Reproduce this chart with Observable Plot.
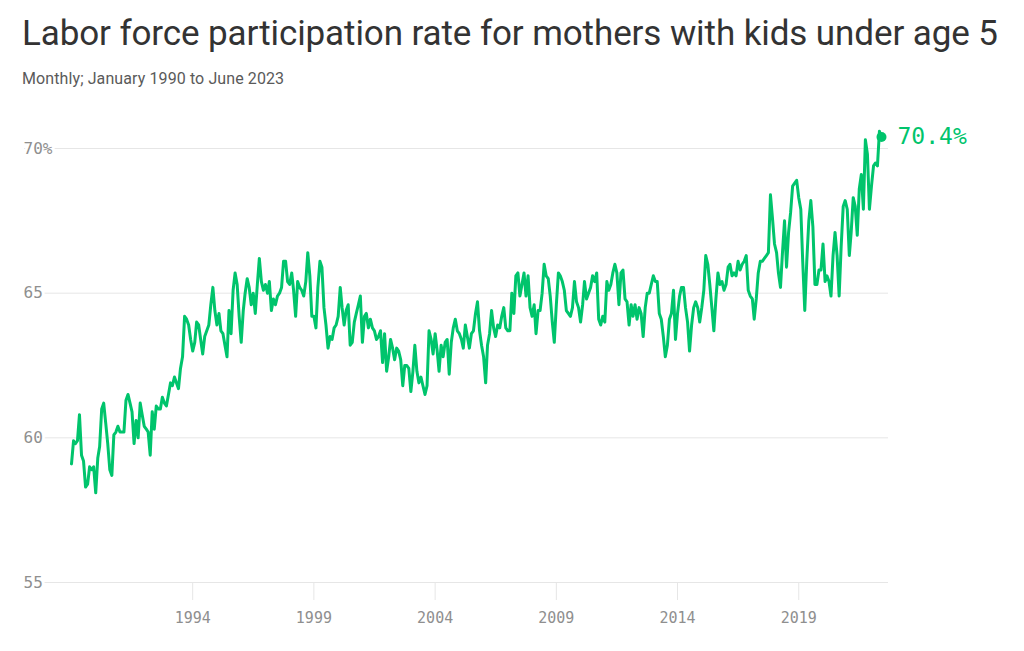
<!DOCTYPE html>
<html><head><meta charset="utf-8">
<script src="https://cdn.jsdelivr.net/npm/d3@7"></script>
<script src="https://cdn.jsdelivr.net/npm/@observablehq/plot@0.6"></script>
<style>
html,body{margin:0;padding:0;background:#fff;width:1024px;height:651px;overflow:hidden;position:relative;}
#title{position:absolute;left:22px;top:16px;font-family:Roboto,sans-serif;font-size:35px;line-height:35px;color:#333;white-space:nowrap;letter-spacing:-0.1px;}
#subtitle{position:absolute;left:22px;top:71px;font-family:Roboto,sans-serif;font-size:16px;line-height:16px;color:#5a5a5a;white-space:nowrap;letter-spacing:0.1px;}
#chart{position:absolute;left:0;top:100px;}
</style></head><body>
<div id="title">Labor force participation rate for mothers with kids under age 5</div>
<div id="subtitle">Monthly; January 1990 to June 2023</div>
<div id="chart"></div>
<script>
// Monthly rate (%), January 1990 onward
const rates = [
 59.1, 59.9, 59.8, 59.9, 60.8, 59.4, 59.2, 58.3, 58.4, 59.0, 58.9, 59.0, // 1990
 58.1, 59.3, 59.7, 61.0, 61.2, 60.5, 59.8, 58.9, 58.7, 60.1, 60.2, 60.4, // 1991
 60.2, 60.2, 60.2, 61.3, 61.5, 61.2, 60.9, 59.8, 60.6, 60.0, 61.2, 60.8, // 1992
 60.4, 60.3, 60.2, 59.4, 60.9, 60.3, 61.1, 61.0, 61.0, 61.4, 61.2, 61.1, // 1993
 61.5, 61.9, 61.8, 62.1, 61.9, 61.7, 62.4, 62.8, 64.2, 64.1, 63.9, 63.4, // 1994
 63.0, 63.3, 64.0, 63.9, 63.4, 62.9, 63.5, 63.7, 63.9, 64.6, 65.2, 64.4, // 1995
 63.9, 64.3, 63.7, 63.6, 63.2, 62.8, 64.4, 63.6, 65.1, 65.7, 65.3, 64.2, // 1996
 63.3, 64.4, 65.0, 65.5, 65.2, 64.6, 65.0, 64.3, 65.3, 66.2, 65.4, 65.1, // 1997
 65.3, 65.0, 65.4, 64.4, 64.8, 64.6, 64.9, 65.0, 65.2, 66.1, 66.1, 65.4, // 1998
 65.3, 65.7, 65.1, 64.2, 65.4, 65.2, 65.1, 64.9, 65.4, 66.4, 65.6, 64.2, // 1999
 64.2, 63.8, 65.2, 66.1, 65.9, 64.5, 63.9, 63.1, 63.5, 63.4, 63.8, 63.9, // 2000
 64.2, 65.2, 64.5, 63.9, 64.4, 64.6, 63.2, 63.3, 64.0, 64.3, 64.6, 64.9, // 2001
 63.3, 64.2, 64.3, 63.8, 64.1, 63.8, 63.7, 63.4, 63.5, 63.7, 62.6, 63.6, // 2002
 62.3, 62.8, 63.4, 63.1, 62.7, 63.1, 63.0, 62.7, 61.8, 62.5, 62.5, 62.4, // 2003
 61.6, 62.3, 63.2, 62.3, 61.9, 62.1, 61.8, 61.5, 61.8, 63.7, 63.4, 62.9, // 2004
 63.6, 63.0, 62.3, 63.2, 62.8, 63.3, 63.4, 62.2, 63.3, 63.8, 64.1, 63.7, // 2005
 63.6, 63.4, 63.1, 63.9, 63.5, 63.1, 63.6, 63.7, 64.3, 64.7, 63.7, 63.2, // 2006
 62.8, 61.9, 63.2, 63.6, 64.4, 63.8, 63.5, 63.9, 63.8, 64.2, 64.5, 63.8, // 2007
 63.7, 63.7, 65.0, 64.3, 65.6, 65.7, 64.9, 65.3, 65.7, 64.9, 65.6, 64.5, // 2008
 64.2, 64.6, 63.6, 64.4, 64.4, 65.0, 66.0, 65.6, 65.5, 64.9, 64.0, 63.3, // 2009
 64.6, 65.7, 65.6, 65.4, 65.1, 64.4, 64.3, 64.2, 64.5, 65.4, 64.7, 64.5, // 2010
 64.0, 64.6, 65.4, 64.8, 65.0, 65.2, 65.6, 65.4, 65.7, 64.1, 63.9, 64.2, // 2011
 64.0, 65.4, 65.1, 65.3, 65.7, 66.0, 65.7, 64.6, 65.7, 65.8, 64.8, 64.7, // 2012
 63.9, 64.6, 64.2, 64.6, 64.1, 64.5, 64.3, 63.5, 64.5, 65.0, 65.0, 65.3, // 2013
 65.6, 65.4, 65.4, 64.3, 64.1, 63.5, 62.8, 63.2, 64.1, 64.3, 65.1, 63.4, // 2014
 64.3, 64.9, 65.2, 65.2, 64.5, 64.0, 63.0, 63.9, 64.5, 64.7, 64.5, 64.0, // 2015
 64.5, 65.1, 66.3, 66.0, 65.3, 64.5, 63.7, 64.8, 65.7, 65.3, 65.4, 65.1, // 2016
 65.3, 65.9, 66.0, 65.6, 65.7, 65.6, 66.1, 65.8, 66.0, 66.1, 66.3, 65.1, // 2017
 64.9, 64.8, 64.1, 64.8, 65.7, 66.1, 66.1, 66.2, 66.3, 66.4, 68.4, 67.6, // 2018
 66.7, 66.4, 65.7, 65.2, 66.4, 67.5, 65.9, 67.1, 67.8, 68.7, 68.8, 68.9, // 2019
 68.3, 67.9, 66.1, 64.4, 66.1, 67.5, 68.2, 67.3, 65.3, 65.3, 65.8, 65.8, // 2020
 66.7, 65.4, 65.6, 65.4, 64.9, 66.3, 67.1, 66.3, 64.9, 66.6, 68.0, 68.2, // 2021
 67.9, 66.3, 67.1, 68.3, 68.0, 67.0, 68.6, 69.1, 67.9, 70.3, 69.8, 67.9, // 2022
 68.7, 69.4, 69.5, 69.4, 70.6, 70.4                                      // 2023 (to June)
];
const firstYear = 1990;

const yTicks = [55, 60, 65, 70];
const yTickLabels = ["55", "60", "65", "70%"];

const xTickDates = ["1995-01-01", "2000-01-01", "2005-01-01", "2010-01-01", "2015-01-01", "2020-01-01"];
const xTickLabels = ["1994", "1999", "2004", "2009", "2014", "2019"];

const data = rates.map((v, i) => ({date: new Date(Date.UTC(firstYear, i, 1)), value: v}));
const last = data[data.length - 1];
const yTickData = yTicks.map((v, i) => ({v, label: yTickLabels[i]}));
const xTickValues = xTickDates.map(d => new Date(d + "T00:00:00Z"));
const xLabelMap = new Map(xTickValues.map((d, i) => [+d, xTickLabels[i]]));

const green = "#00c46c";
const grid = "#e6e6e6";
const tickText = "#8f8f8f";
const mono = "'DejaVu Sans Mono', monospace";

const chart = Plot.plot({
  width: 1024,
  height: 551,
  marginLeft: 71,
  marginRight: 143,
  marginTop: 48,
  marginBottom: 69,
  style: {background: "white", overflow: "visible"},
  x: {type: "utc", domain: [data[0].date, last.date]},
  y: {domain: [55, 70], axis: null},
  marks: [
    Plot.ruleY(yTicks, {stroke: grid, strokeWidth: 1, insetLeft: -47, insetRight: -7}),
    Plot.text(yTickData, {y: "v", text: "label", frameAnchor: "left", textAnchor: "start", dx: -48,
      fill: tickText, fontFamily: mono, fontSize: 16, stroke: "white", strokeWidth: 6, paintOrder: "stroke"}),
    Plot.axisX({ticks: xTickValues, tickFormat: d => xLabelMap.get(+d), tickSize: 18, tickPadding: 12,
      stroke: grid, color: tickText, fontFamily: mono, fontSize: 15, label: null}),
    Plot.lineY(data, {x: "date", y: "value", stroke: green, strokeWidth: 3, strokeLinejoin: "round"}),
    Plot.dot([last], {x: "date", y: "value", r: 5, fill: green}),
    Plot.text([last], {x: "date", y: "value", text: d => d.value.toFixed(1) + "%", dx: 16, textAnchor: "start",
      fill: green, fontFamily: mono, fontSize: 23, fontWeight: 500})
  ]
});
document.getElementById("chart").appendChild(chart);
</script>
</body></html>
